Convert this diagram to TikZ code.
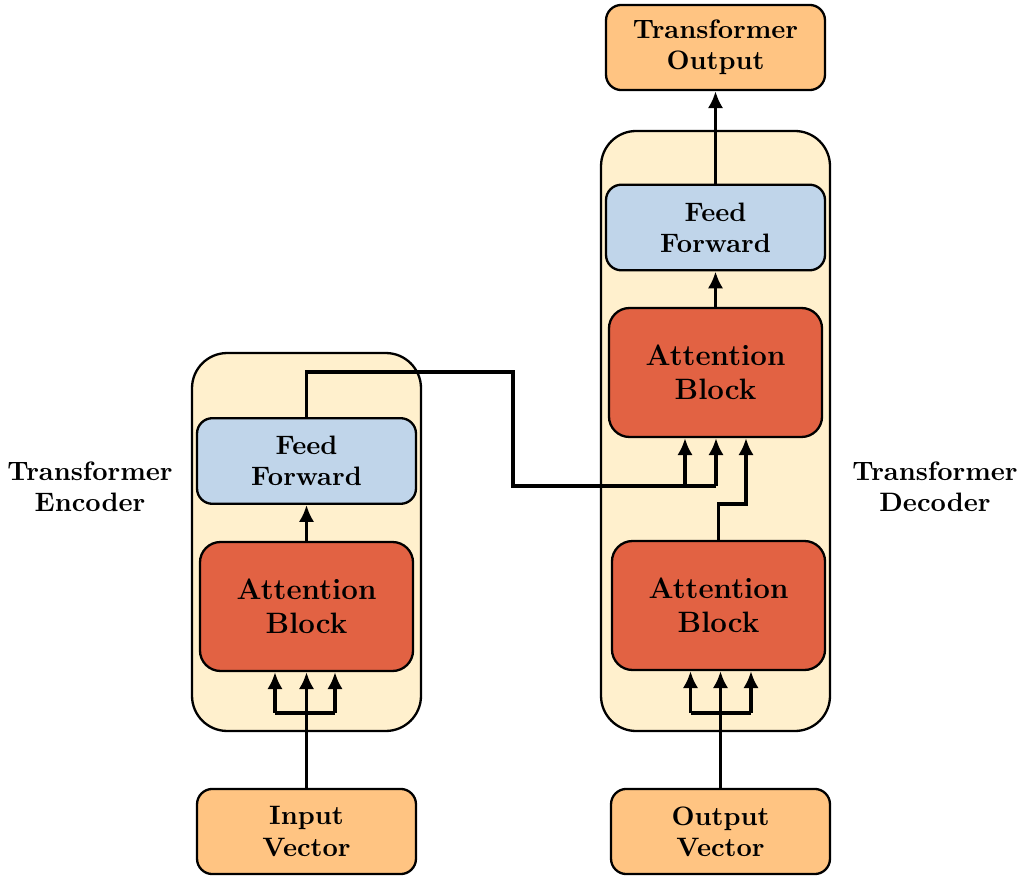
\documentclass[tikz,border=0pt]{standalone}
\usetikzlibrary{arrows.meta,calc}
\definecolor{cream}{HTML}{FFF0CD}
\definecolor{ffblue}{HTML}{C0D5EA}
\definecolor{attred}{HTML}{E26243}
\definecolor{peach}{HTML}{FFC482}
\tikzset{
  x=0.39pt, y=-0.39pt,
  box/.style={draw=black, line width=0.9pt, align=center,
    font=\fontsize{10.4}{12.2}\selectfont\bfseries, inner sep=0pt},
  container/.style={box, fill=cream, rounded corners=13.7pt, minimum width=89.3pt},
  ffbox/.style={box, fill=ffblue, rounded corners=6pt, minimum width=85.4pt, minimum height=33.4pt},
  attbox/.style={box, fill=attred, rounded corners=8pt, minimum width=83.1pt, minimum height=50.3pt,
    font=\fontsize{11.5}{13.4}\selectfont\bfseries},
  iobox/.style={box, fill=peach, rounded corners=6pt, minimum width=85.4pt, minimum height=33.2pt},
  label/.style={align=center, font=\fontsize{10.4}{12.2}\selectfont\bfseries},
  conn/.style={line width=1.55pt},
  arr/.style={conn, -{Latex[length=6.6pt,width=6pt]}},
}
\begin{document}
\begin{tikzpicture}
\useasboundingbox (0,0) rectangle (1021,876);

% containers
\node[container, minimum height=147.4pt] (enc) at (306.5,542) {};
\node[container, minimum height=234pt] (dec) at (715.5,431) {};

% encoder blocks
\node[ffbox] (encff) at (306.5,461) {Feed\\Forward};
\node[attbox] (encatt) at (306.5,606.5) {Attention\\Block};
\node[iobox] (invec) at (306.5,831.5) {Input\\Vector};

% decoder blocks
\node[iobox] (tout) at (715.5,47.5) {Transformer\\Output};
\node[ffbox] (decff) at (715.5,227.5) {Feed\\Forward};
\node[attbox] (decatt) at (715.5,372.5) {Attention\\Block};
\node[attbox] (decself) at (718.5,605.5) {Attention\\Block};
\node[iobox] (outvec) at (720.5,831.5) {Output\\Vector};

% side labels
\node[label] (enclabel) at (90,487) {Transformer\\Encoder};
\node[label] (declabel) at (935,487) {Transformer\\Decoder};

% encoder input fan-out
\coordinate (eL) at ($(encatt.south)+(-31.5,40.5)$);
\coordinate (eR) at ($(encatt.south)+(28.5,40.5)$);
\draw[arr] (invec.north) -- (invec.north |- encatt.south);
\draw[conn] (eL) -- (eR);
\draw[arr] (eL) -- (eL |- encatt.south);
\draw[arr] (eR) -- (eR |- encatt.south);
\draw[arr] (encatt.north) -- (encff.south);

% encoder output to decoder cross-attention
\coordinate (c2) at (513,372);
\coordinate (kA) at ($(decatt.south)+(-30.5,48)$);
\coordinate (kB) at ($(decatt.south)+(0.5,48)$);
\draw[conn] (encff.north) |- (c2) |- (kB);
\draw[arr] (kA) -- (kA |- decatt.south);
\draw[arr] (kB) -- (kB |- decatt.south);

% decoder self-attention to cross-attention
\coordinate (q1) at ($(decself.north)+(0,-36)$);
\coordinate (q2) at ($(decatt.south)+(30.5,66)$);
\draw[arr] (decself.north) -- (q1) -| (q2 |- decatt.south);

% decoder input fan-out
\coordinate (dL) at ($(decself.south)+(-28,41.5)$);
\coordinate (dR) at ($(decself.south)+(32.5,41.5)$);
\draw[arr] (outvec.north) -- (outvec.north |- decself.south);
\draw[conn] (dL) -- (dR);
\draw[arr] (dL) -- (dL |- decself.south);
\draw[arr] (dR) -- (dR |- decself.south);

% decoder upward path
\draw[arr] (decatt.north) -- (decff.south);
\draw[arr] (decff.north) -- (tout.south);
\end{tikzpicture}
\end{document}
